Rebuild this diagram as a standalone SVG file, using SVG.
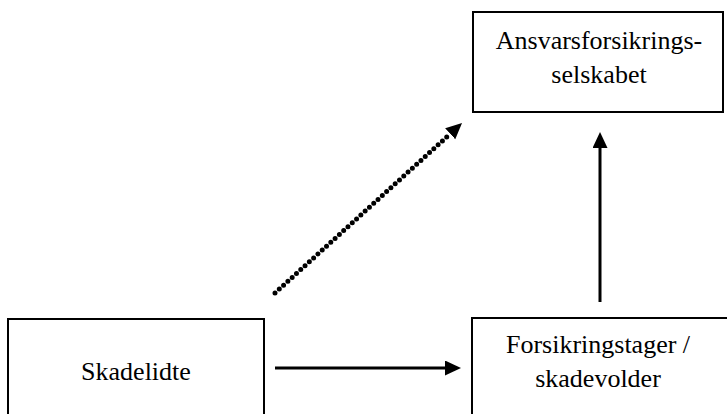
<svg xmlns="http://www.w3.org/2000/svg" width="727" height="414" viewBox="0 0 727 414">
<style>
.box{fill:#fff;stroke:#000;stroke-width:2}
.lbl{font-family:'Times New Roman','Liberation Serif',Tinos,serif;font-size:26px;fill:#000;text-anchor:middle}
.conn{fill:none;stroke:#000;stroke-width:3}
.dot{fill:none;stroke:#000;stroke-width:5;stroke-linecap:round;stroke-dasharray:0 5.8}
</style>
<defs>
<marker id="ah" markerUnits="userSpaceOnUse" markerWidth="17" markerHeight="16" refX="0" refY="7.5" orient="auto">
<path d="M0,0 L16,7.5 L0,15 z" fill="#000"/>
</marker>
</defs>
<rect width="727" height="414" fill="#fff"/>
<g id="node-ansvar">
<rect class="box" x="473" y="12" width="250" height="100"/>
<text class="lbl" x="599" y="49">Ansvarsforsikrings-</text>
<text class="lbl" x="599" y="83">selskabet</text>
</g>
<g id="node-skadelidte">
<rect class="box" x="8" y="319" width="256" height="110"/>
<text class="lbl" x="136" y="380">Skadelidte</text>
</g>
<g id="node-forsikringstager">
<rect class="box" x="472" y="318" width="270" height="110"/>
<text class="lbl" x="598" y="353">Forsikringstager /</text>
<text class="lbl" x="598" y="387">skadevolder</text>
</g>
<g id="connectors">
<line class="conn" x1="275" y1="368" x2="445" y2="368" marker-end="url(#ah)"/>
<line class="conn" x1="600" y1="302" x2="600" y2="148" marker-end="url(#ah)"/>
<line class="dot" x1="275" y1="293" x2="450.2" y2="133.8" marker-end="url(#ah)"/>
</g>
</svg>
